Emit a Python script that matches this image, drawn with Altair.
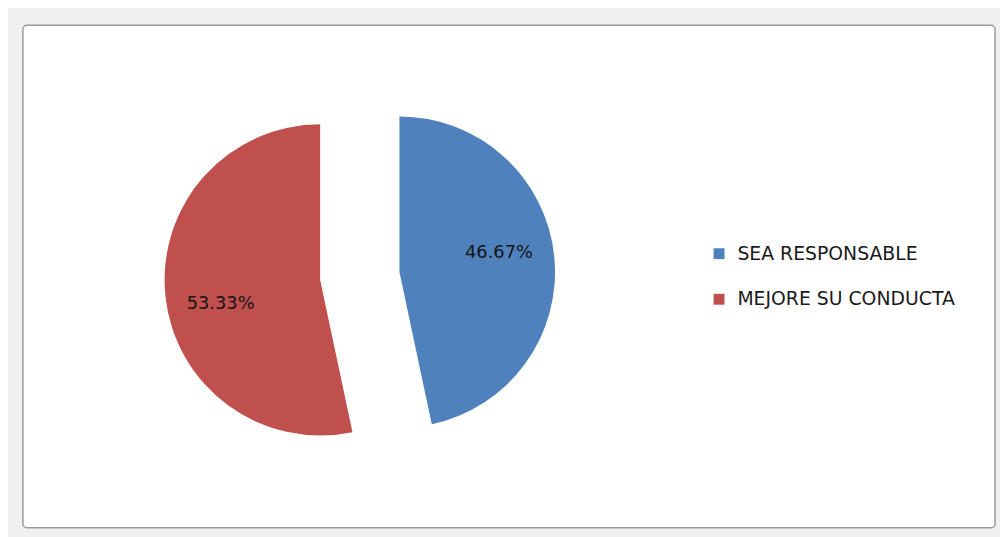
import altair as alt
import pandas as pd

categories = ["SEA RESPONSABLE", "MEJORE SU CONDUCTA"]
values = [46.67, 53.33]
labels = ["46.67%", "53.33%"]
order = [0, 1]
colors = ["#4F81BD", "#C0504D"]

df = pd.DataFrame({"cat": categories, "val": values, "lab": labels, "order": order})

W, H = 981, 507

frame = alt.Chart(pd.DataFrame({"f": [0]})).mark_rect(
    fill="white", stroke="#9a9a9a", strokeWidth=1.5, cornerRadius=4
).encode(
    x=alt.value(0), x2=alt.value(W), y=alt.value(0), y2=alt.value(H)
)

base = alt.Chart(df).transform_window(
    cum="sum(val)", sort=[alt.SortField("order")], frame=[None, 0]
).transform_calculate(
    start="datum.cum - datum.val", mid="datum.cum - datum.val / 2"
)

theta_scale = alt.Scale(domain=[0, 100], range=[0, 6.283185307])
color = alt.Color(
    "cat:N",
    scale=alt.Scale(domain=categories, range=colors),
    sort=categories,
    legend=alt.Legend(
        title=None, orient="none", legendX=693, legendY=221,
        symbolType="square", symbolSize=121, symbolStrokeWidth=0,
        labelFont="DejaVu Sans", labelFontSize=19, labelColor="#1a1a1a",
        rowPadding=26, labelOffset=9, labelLimit=400,
    ),
)

cx, cy = 340, 253
R = 157
offsets = {"SEA RESPONSABLE": (40, -4), "MEJORE SU CONDUCTA": (-40, 4)}
label_shift = {"SEA RESPONSABLE": (1, -9), "MEJORE SU CONDUCTA": (-1, 14)}

layers = [frame]
for c in categories:
    ox, oy = offsets[c]
    ldx, ldy = label_shift[c]
    sub = base.transform_filter(alt.datum.cat == c)
    arc = sub.mark_arc(outerRadius=R, x=cx + ox, y=cy + oy).encode(
        theta=alt.Theta("start:Q", scale=theta_scale),
        theta2="cum:Q",
        color=color,
    )
    txt = sub.mark_text(
        radius=100, x=cx + ox, y=cy + oy, dx=ldx, dy=ldy,
        font="DejaVu Sans", fontSize=18, color="#141414",
    ).encode(
        theta=alt.Theta("mid:Q", scale=theta_scale),
        text="lab:N",
    )
    layers += [arc, txt]

chart = alt.layer(*layers).properties(
    width=W, height=H,
    padding={"left": 14, "top": 14, "right": 4, "bottom": 8},
    background="#f0f0f0",
).configure_view(stroke=None)

chart.save("out.html", embed_options={"renderer": "svg", "actions": False})
